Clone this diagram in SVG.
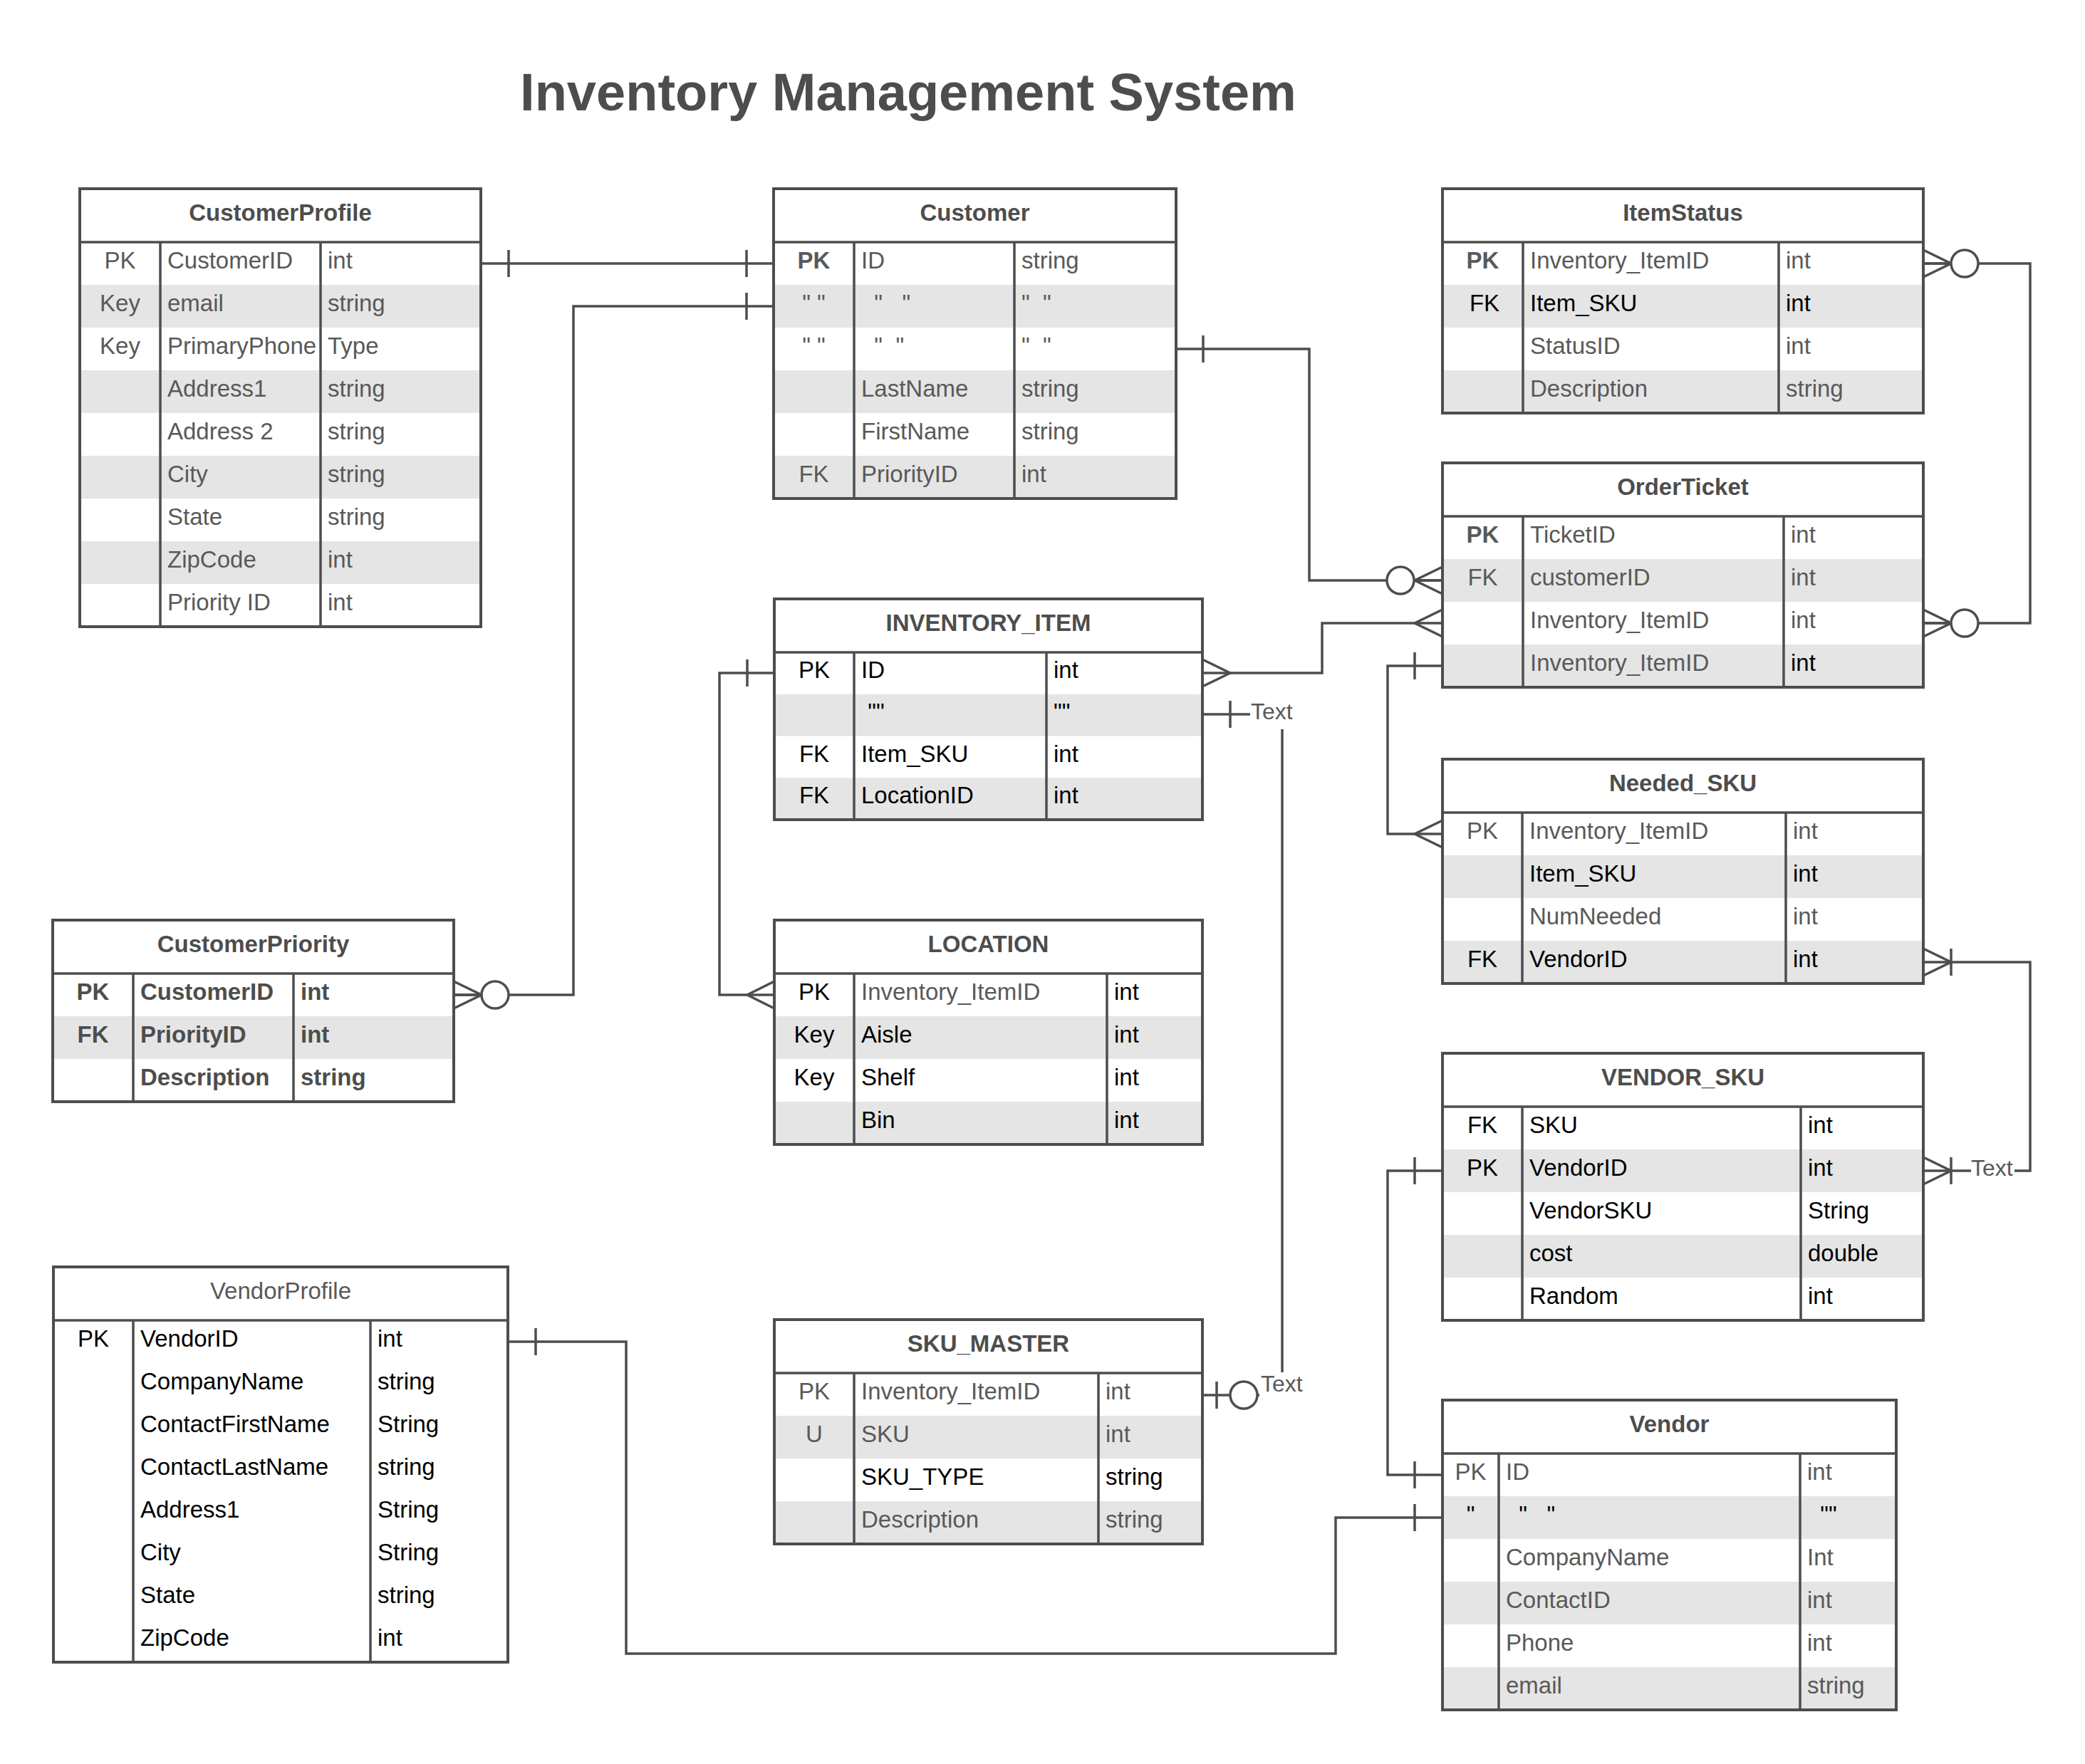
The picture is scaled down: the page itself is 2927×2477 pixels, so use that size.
<svg xmlns="http://www.w3.org/2000/svg" width="2927" height="2477" viewBox="0 0 2927 2477">
<style>
.bg{fill:#fff}
.s{fill:#e5e5e5}
.ln{stroke:#4d4d4d;stroke-width:3.5;fill:none}
.fr{fill:none;stroke:#4d4d4d;stroke-width:4}
text{font-family:"Liberation Sans",Arial,Helvetica,sans-serif;font-size:33px;fill:#595959}
.k{text-anchor:middle}
.d{fill:#000}
.b{font-weight:bold}
.h{font-weight:bold;fill:#4d4d4d;text-anchor:middle}
.hr{fill:#595959;text-anchor:middle}
.p{white-space:pre}
.c{stroke:#4d4d4d;stroke-width:3.5;fill:none}
.o{fill:#fff;stroke:#4d4d4d;stroke-width:3.5}
.lbl{font-size:32px;fill:#595959}
.title{font-size:74px;font-weight:bold;fill:#4d4d4d;text-anchor:middle}
</style>
<rect width="2927" height="2477" fill="#fff"/>
<text class="title" x="1275" y="155">Inventory Management System</text>

<g id="customerprofile">
<rect class="bg" x="112" y="265" width="563" height="615"/>
<rect class="s" x="112" y="400" width="563" height="60"/>
<rect class="s" x="112" y="520" width="563" height="60"/>
<rect class="s" x="112" y="640" width="563" height="60"/>
<rect class="s" x="112" y="760" width="563" height="60"/>
<path class="ln" d="M112 340H675M225 340V880M450 340V880"/>
<rect class="fr" x="112" y="265" width="563" height="615"/>
<text class="h" x="393.5" y="310">CustomerProfile</text>
<text class="k" x="168.5" y="377">PK</text><text x="235" y="377">CustomerID</text><text x="460" y="377">int</text>
<text class="k" x="168.5" y="437">Key</text><text x="235" y="437">email</text><text x="460" y="437">string</text>
<text class="k" x="168.5" y="497">Key</text><text x="235" y="497">PrimaryPhone</text><text x="460" y="497">Type</text>
<text x="235" y="557">Address1</text><text x="460" y="557">string</text>
<text x="235" y="617">Address 2</text><text x="460" y="617">string</text>
<text x="235" y="677">City</text><text x="460" y="677">string</text>
<text x="235" y="737">State</text><text x="460" y="737">string</text>
<text x="235" y="797">ZipCode</text><text x="460" y="797">int</text>
<text x="235" y="857">Priority ID</text><text x="460" y="857">int</text>
</g>

<g id="customer">
<rect class="bg" x="1086" y="265" width="565" height="435"/>
<rect class="s" x="1086" y="400" width="565" height="60"/>
<rect class="s" x="1086" y="520" width="565" height="60"/>
<rect class="s" x="1086" y="640" width="565" height="60"/>
<path class="ln" d="M1086 340H1651M1199 340V700M1424 340V700"/>
<rect class="fr" x="1086" y="265" width="565" height="435"/>
<text class="h" x="1368.5" y="310">Customer</text>
<text class="k b" x="1142.5" y="377">PK</text><text x="1209" y="377">ID</text><text x="1434" y="377">string</text>
<text class="k p" x="1142.5" y="437" xml:space="preserve">" "</text><text class="p" x="1209" y="437" xml:space="preserve">  "   "</text><text class="p" x="1434" y="437" xml:space="preserve">"  "</text>
<text class="k p" x="1142.5" y="497" xml:space="preserve">" "</text><text class="p" x="1209" y="497" xml:space="preserve">  "  "</text><text class="p" x="1434" y="497" xml:space="preserve">"  "</text>
<text x="1209" y="557">LastName</text><text x="1434" y="557">string</text>
<text x="1209" y="617">FirstName</text><text x="1434" y="617">string</text>
<text class="k" x="1142.5" y="677">FK</text><text x="1209" y="677">PriorityID</text><text x="1434" y="677">int</text>
</g>

<g id="itemstatus">
<rect class="bg" x="2025" y="265" width="675" height="315"/>
<rect class="s" x="2025" y="400" width="675" height="60"/>
<rect class="s" x="2025" y="520" width="675" height="60"/>
<path class="ln" d="M2025 340H2700M2138 340V580M2497 340V580"/>
<rect class="fr" x="2025" y="265" width="675" height="315"/>
<text class="h" x="2362.5" y="310">ItemStatus</text>
<text class="k b" x="2081.5" y="377">PK</text><text x="2148" y="377">Inventory_ItemID</text><text x="2507" y="377">int</text>
<text class="k d" x="2084" y="437">FK</text><text class="d" x="2148" y="437">Item_SKU</text><text class="d" x="2507" y="437">int</text>
<text x="2148" y="497">StatusID</text><text x="2507" y="497">int</text>
<text x="2148" y="557">Description</text><text x="2507" y="557">string</text>
</g>

<g id="orderticket">
<rect class="bg" x="2025" y="650" width="675" height="315"/>
<rect class="s" x="2025" y="785" width="675" height="60"/>
<rect class="s" x="2025" y="905" width="675" height="60"/>
<path class="ln" d="M2025 725H2700M2138 725V965M2504 725V965"/>
<rect class="fr" x="2025" y="650" width="675" height="315"/>
<text class="h" x="2362.5" y="695">OrderTicket</text>
<text class="k b" x="2081.5" y="762">PK</text><text x="2148" y="762">TicketID</text><text x="2514" y="762">int</text>
<text class="k" x="2081.5" y="822">FK</text><text x="2148" y="822">customerID</text><text x="2514" y="822">int</text>
<text x="2148" y="882">Inventory_ItemID</text><text x="2514" y="882">int</text>
<text x="2148" y="942">Inventory_ItemID</text><text class="d" x="2514" y="942">int</text>
</g>

<g id="inventory_item">
<rect class="bg" x="1087" y="841" width="601" height="310"/>
<rect class="s" x="1087" y="974.75" width="601" height="58.75"/>
<rect class="s" x="1087" y="1092.25" width="601" height="58.75"/>
<path class="ln" d="M1087 916H1688M1199 916V1151M1469 916V1151"/>
<rect class="fr" x="1087" y="841" width="601" height="310"/>
<text class="h" x="1387.5" y="886">INVENTORY_ITEM</text>
<text class="k d" x="1143" y="952">PK</text><text class="d" x="1209" y="952">ID</text><text class="d" x="1479" y="952">int</text>
<text class="d p" x="1209" y="1011" xml:space="preserve"> ""</text><text class="d" x="1479" y="1011">""</text>
<text class="k d" x="1143" y="1070">FK</text><text class="d" x="1209" y="1070">Item_SKU</text><text class="d" x="1479" y="1070">int</text>
<text class="k d" x="1143" y="1128">FK</text><text class="d" x="1209" y="1128">LocationID</text><text class="d" x="1479" y="1128">int</text>
</g>

<g id="location">
<rect class="bg" x="1087" y="1292" width="601" height="315"/>
<rect class="s" x="1087" y="1427" width="601" height="60"/>
<rect class="s" x="1087" y="1547" width="601" height="60"/>
<path class="ln" d="M1087 1367H1688M1199 1367V1607M1554 1367V1607"/>
<rect class="fr" x="1087" y="1292" width="601" height="315"/>
<text class="h" x="1387.5" y="1337">LOCATION</text>
<text class="k d" x="1143" y="1404">PK</text><text x="1209" y="1404">Inventory_ItemID</text><text class="d" x="1564" y="1404">int</text>
<text class="k d" x="1143" y="1464">Key</text><text class="d" x="1209" y="1464">Aisle</text><text class="d" x="1564" y="1464">int</text>
<text class="k d" x="1143" y="1524">Key</text><text class="d" x="1209" y="1524">Shelf</text><text class="d" x="1564" y="1524">int</text>
<text class="d" x="1209" y="1584">Bin</text><text class="d" x="1564" y="1584">int</text>
</g>

<g id="customerpriority">
<rect class="bg" x="74" y="1292" width="563" height="255"/>
<rect class="s" x="74" y="1427" width="563" height="60"/>
<path class="ln" d="M74 1367H637M187 1367V1547M412 1367V1547"/>
<rect class="fr" x="74" y="1292" width="563" height="255"/>
<text class="h" x="355.5" y="1337">CustomerPriority</text>
<text class="k b" x="130.5" y="1404" fill="#4d4d4d" style="fill:#4d4d4d">PK</text><text class="b" x="197" y="1404" style="fill:#4d4d4d">CustomerID</text><text class="b" x="422" y="1404" style="fill:#4d4d4d">int</text>
<text class="k b" x="130.5" y="1464" style="fill:#4d4d4d">FK</text><text class="b" x="197" y="1464" style="fill:#4d4d4d">PriorityID</text><text class="b" x="422" y="1464" style="fill:#4d4d4d">int</text>
<text class="b" x="197" y="1524" style="fill:#4d4d4d">Description</text><text class="b" x="422" y="1524" style="fill:#4d4d4d">string</text>
</g>

<g id="needed_sku">
<rect class="bg" x="2025" y="1066" width="675" height="315"/>
<rect class="s" x="2025" y="1201" width="675" height="60"/>
<rect class="s" x="2025" y="1321" width="675" height="60"/>
<path class="ln" d="M2025 1141H2700M2137 1141V1381M2507 1141V1381"/>
<rect class="fr" x="2025" y="1066" width="675" height="315"/>
<text class="h" x="2362.5" y="1111">Needed_SKU</text>
<text class="k" x="2081" y="1178">PK</text><text x="2147" y="1178">Inventory_ItemID</text><text x="2517" y="1178">int</text>
<text class="d" x="2147" y="1238">Item_SKU</text><text class="d" x="2517" y="1238">int</text>
<text x="2147" y="1298">NumNeeded</text><text x="2517" y="1298">int</text>
<text class="k d" x="2081" y="1358">FK</text><text class="d" x="2147" y="1358">VendorID</text><text class="d" x="2517" y="1358">int</text>
</g>

<g id="vendor_sku">
<rect class="bg" x="2025" y="1479" width="675" height="375"/>
<rect class="s" x="2025" y="1614" width="675" height="60"/>
<rect class="s" x="2025" y="1734" width="675" height="60"/>
<path class="ln" d="M2025 1554H2700M2137 1554V1854M2528 1554V1854"/>
<rect class="fr" x="2025" y="1479" width="675" height="375"/>
<text class="h" x="2362.5" y="1524">VENDOR_SKU</text>
<text class="k d" x="2081" y="1591">FK</text><text class="d" x="2147" y="1591">SKU</text><text class="d" x="2538" y="1591">int</text>
<text class="k d" x="2081" y="1651">PK</text><text class="d" x="2147" y="1651">VendorID</text><text class="d" x="2538" y="1651">int</text>
<text class="d" x="2147" y="1711">VendorSKU</text><text class="d" x="2538" y="1711">String</text>
<text class="d" x="2147" y="1771">cost</text><text class="d" x="2538" y="1771">double</text>
<text class="d" x="2147" y="1831">Random</text><text class="d" x="2538" y="1831">int</text>
</g>

<g id="sku_master">
<rect class="bg" x="1087" y="1853" width="601" height="315"/>
<rect class="s" x="1087" y="1988" width="601" height="60"/>
<rect class="s" x="1087" y="2108" width="601" height="60"/>
<path class="ln" d="M1087 1928H1688M1199 1928V2168M1542 1928V2168"/>
<rect class="fr" x="1087" y="1853" width="601" height="315"/>
<text class="h" x="1387.5" y="1898">SKU_MASTER</text>
<text class="k" x="1143" y="1965">PK</text><text x="1209" y="1965">Inventory_ItemID</text><text x="1552" y="1965">int</text>
<text class="k" x="1143" y="2025">U</text><text x="1209" y="2025">SKU</text><text x="1552" y="2025">int</text>
<text class="d" x="1209" y="2085">SKU_TYPE</text><text class="d" x="1552" y="2085">string</text>
<text x="1209" y="2145">Description</text><text x="1552" y="2145">string</text>
</g>

<g id="vendor">
<rect class="bg" x="2025" y="1966" width="637" height="435"/>
<rect class="s" x="2025" y="2101" width="637" height="60"/>
<rect class="s" x="2025" y="2221" width="637" height="60"/>
<rect class="s" x="2025" y="2341" width="637" height="60"/>
<path class="ln" d="M2025 2041H2662M2104 2041V2401M2527 2041V2401"/>
<rect class="fr" x="2025" y="1966" width="637" height="435"/>
<text class="h" x="2343.5" y="2011">Vendor</text>
<text class="k" x="2064.5" y="2078">PK</text><text x="2114" y="2078">ID</text><text x="2537" y="2078">int</text>
<text class="k d" x="2064.5" y="2138">"</text><text class="d p" x="2114" y="2138" xml:space="preserve">  "   "</text><text class="d p" x="2537" y="2138" xml:space="preserve">  ""</text>
<text x="2114" y="2198">CompanyName</text><text x="2537" y="2198">Int</text>
<text x="2114" y="2258">ContactID</text><text x="2537" y="2258">int</text>
<text x="2114" y="2318">Phone</text><text x="2537" y="2318">int</text>
<text x="2114" y="2378">email</text><text x="2537" y="2378">string</text>
</g>

<g id="vendorprofile">
<rect class="bg" x="75" y="1779" width="638" height="555"/>
<path class="ln" d="M75 1854H713M187 1854V2334M520 1854V2334"/>
<rect class="fr" x="75" y="1779" width="638" height="555"/>
<text class="hr" x="394" y="1824">VendorProfile</text>
<text class="k d" x="131" y="1891">PK</text><text class="d" x="197" y="1891">VendorID</text><text class="d" x="530" y="1891">int</text>
<text class="d" x="197" y="1951">CompanyName</text><text class="d" x="530" y="1951">string</text>
<text class="d" x="197" y="2011">ContactFirstName</text><text class="d" x="530" y="2011">String</text>
<text class="d" x="197" y="2071">ContactLastName</text><text class="d" x="530" y="2071">string</text>
<text class="d" x="197" y="2131">Address1</text><text class="d" x="530" y="2131">String</text>
<text class="d" x="197" y="2191">City</text><text class="d" x="530" y="2191">String</text>
<text class="d" x="197" y="2251">State</text><text class="d" x="530" y="2251">string</text>
<text class="d" x="197" y="2311">ZipCode</text><text class="d" x="530" y="2311">int</text>
</g>

<g id="connectors">
<!-- CustomerProfile to Customer -->
<path class="c" d="M675 370H1086M714 351V389M1048 351V389"/>
<!-- CustomerPriority to Customer -->
<path class="c" d="M637 1397H805V430H1086M1048 411V449"/>
<path class="c" d="M637 1378L676 1397L637 1416M637 1397H676"/>
<circle class="o" cx="695" cy="1397" r="19"/>
<!-- Customer to OrderTicket -->
<path class="c" d="M1651 490H1838V815H2025M1689 471V509"/>
<path class="c" d="M2025 796L1986 815L2025 834M2025 815H1986"/>
<circle class="o" cx="1966" cy="815" r="19"/>
<!-- INVENTORY_ITEM to OrderTicket -->
<path class="c" d="M1688 945H1856V875H2025"/>
<path class="c" d="M1688 926L1727 945L1688 964"/>
<path class="c" d="M2025 856L1986 875L2025 894"/>
<!-- ItemStatus to OrderTicket -->
<path class="c" d="M2700 370H2850V875H2700"/>
<path class="c" d="M2700 351L2739 370L2700 389M2700 370H2739"/>
<circle class="o" cx="2758" cy="370" r="19"/>
<path class="c" d="M2700 856L2739 875L2700 894M2700 875H2739"/>
<circle class="o" cx="2758" cy="875" r="19"/>
<!-- OrderTicket to Needed_SKU -->
<path class="c" d="M2025 935H1948V1171H2025M1986 916V954"/>
<path class="c" d="M2025 1152L1986 1171L2025 1190"/>
<!-- INVENTORY_ITEM to LOCATION -->
<path class="c" d="M1087 945H1010V1397H1087M1049 926V964"/>
<path class="c" d="M1087 1378L1049 1397L1087 1416"/>
<!-- INVENTORY_ITEM to SKU_MASTER -->
<path class="c" d="M1688 1003H1755M1727 984V1022M1800 1024V1927"/>
<text class="lbl" x="1756" y="1010">Text</text>
<path class="c" d="M1688 1959H1768M1708 1940V1978"/>
<circle class="o" cx="1746" cy="1959" r="19"/>
<text class="lbl" x="1770" y="1954">Text</text>
<!-- Needed_SKU to VENDOR_SKU -->
<path class="c" d="M2700 1351H2850V1644H2828M2767 1644H2700"/>
<path class="c" d="M2700 1332L2739 1351L2700 1370M2739 1332V1370"/>
<path class="c" d="M2700 1625L2739 1644L2700 1663M2739 1625V1663"/>
<text class="lbl" x="2767" y="1651">Text</text>
<!-- VENDOR_SKU to Vendor -->
<path class="c" d="M2025 1644H1948V2071H2025M1986 1625V1663M1986 2052V2090"/>
<!-- VendorProfile to Vendor -->
<path class="c" d="M713 1884H879V2322H1875V2131H2025M752 1865V1903M1986 2112V2150"/>
</g>
</svg>
